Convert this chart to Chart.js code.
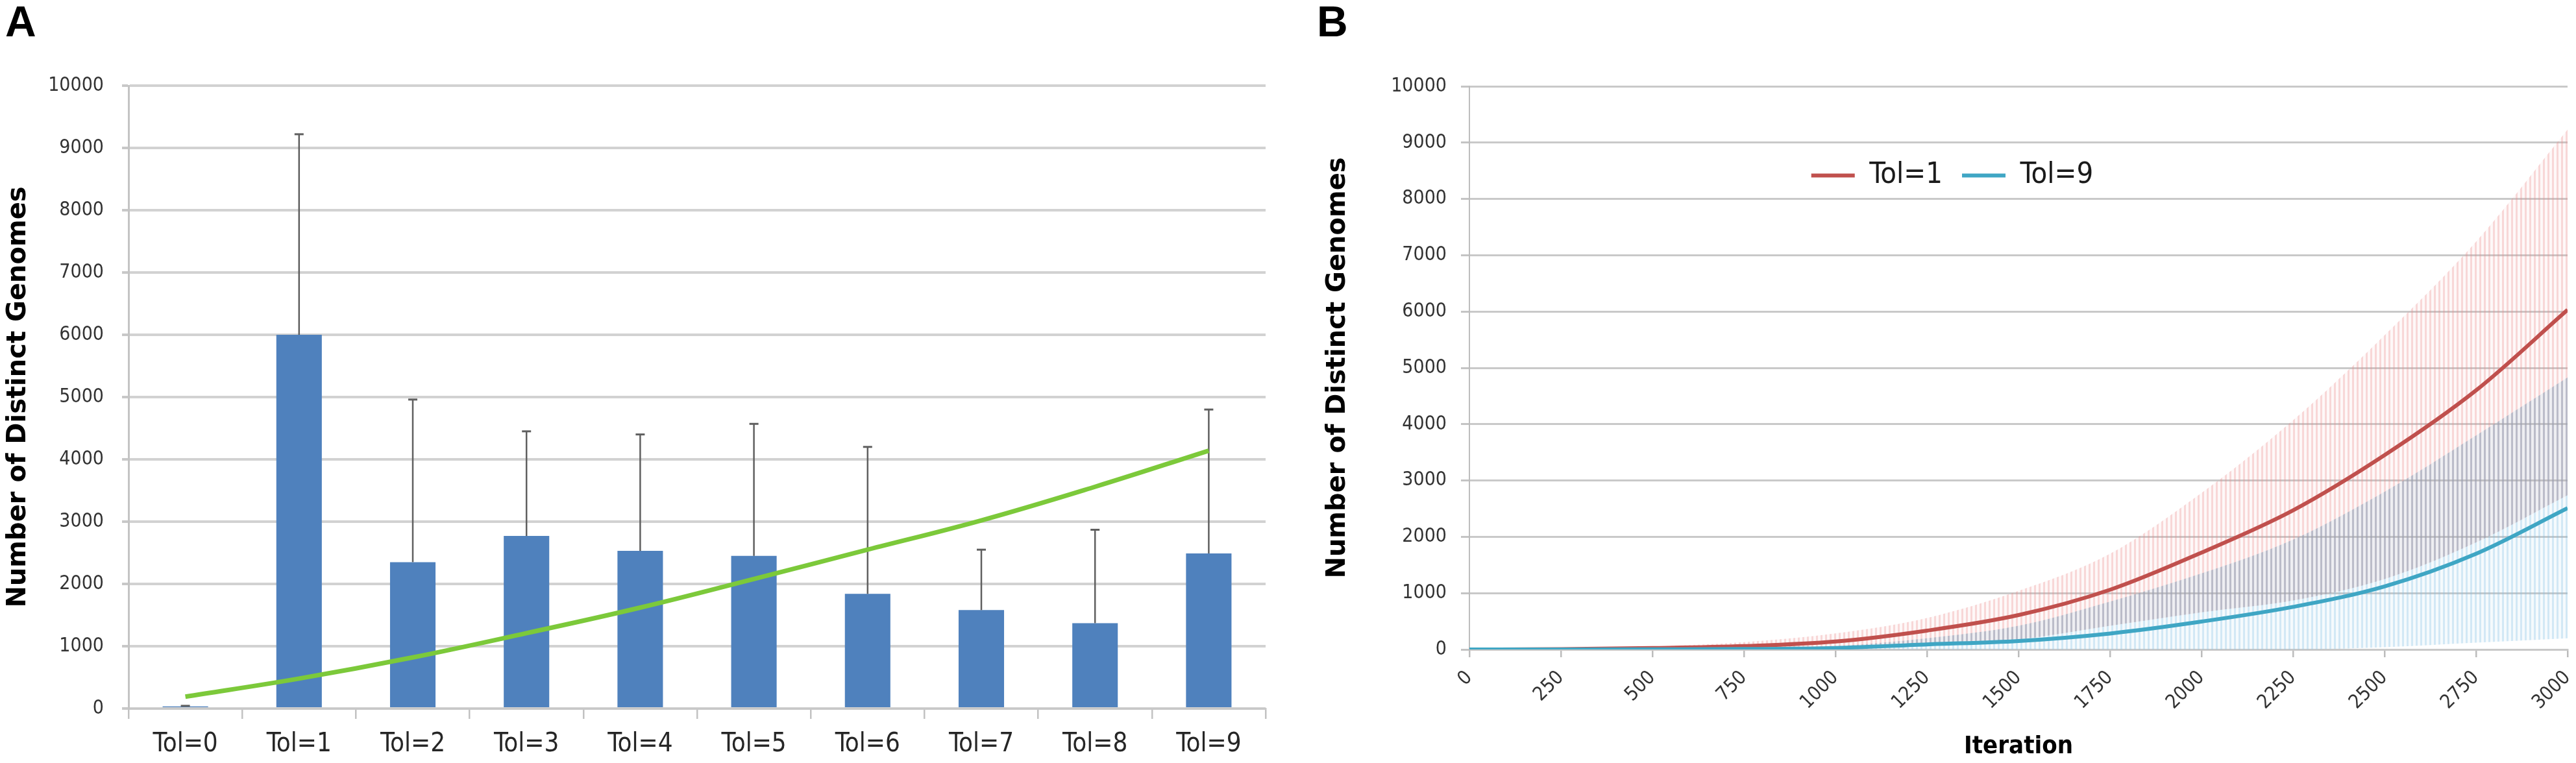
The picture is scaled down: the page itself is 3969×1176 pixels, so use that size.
<!DOCTYPE html>
<html>
<head>
<meta charset="utf-8">
<script src="https://cdn.jsdelivr.net/npm/chart.js@4.4.1/dist/chart.umd.min.js"></script>
<style>
  html, body { margin: 0; padding: 0; background: #ffffff; }
  body { width: 3969px; height: 1176px; position: relative; overflow: hidden; }
  .panel { position: absolute; top: 0; height: 1176px; }
  #pa { left: 0; width: 1990px; }
  #pb { left: 2000px; width: 1969px; }
  .tag { position: absolute; font-family: 'Liberation Sans', Arial, sans-serif; font-weight: bold;
         font-size: 66px; line-height: 66px; color: #000; }
</style>
</head>
<body>
<div class="panel" id="pa"><canvas id="chartA"></canvas></div>
<div class="panel" id="pb"><canvas id="chartB"></canvas></div>
<div class="tag" style="left:8px; top:0px;">A</div>
<div class="tag" style="left:2029px; top:0px;">B</div>
<script>
// ---------------- Panel A data ----------------
const tolCategories = ['Tol=0', 'Tol=1', 'Tol=2', 'Tol=3', 'Tol=4', 'Tol=5', 'Tol=6', 'Tol=7', 'Tol=8', 'Tol=9'];
const meanGenomes  = [35, 6000, 2350, 2770, 2530, 2450, 1840, 1580, 1370, 2490];
const sdGenomes    = [8, 3220, 2610, 1680, 1870, 2120, 2360, 970, 1500, 2310];
const trendGenomes = [190, 480, 820, 1210, 1620, 2080, 2550, 3020, 3560, 4140];

// ---------------- Panel B data ----------------
const iterations = [0, 250, 500, 750, 1000, 1250, 1500, 1750, 2000, 2250, 2500, 2750, 3000];
const tol1Mean   = [0, 5, 25, 60, 140, 335, 610, 1060, 1720, 2470, 3450, 4600, 6030];
const tol1Upper  = [0, 12, 50, 130, 285, 560, 1040, 1700, 2780, 4070, 5580, 7240, 9230];
const tol1Lower  = [0, 0, 5, 10, 20, 110, 180, 420, 660, 870, 1250, 1900, 2740];
const tol9Mean   = [0, 0, 3, 8, 27, 90, 150, 283, 495, 756, 1120, 1700, 2510];
const tol9Upper  = [0, 2, 10, 25, 60, 200, 420, 850, 1350, 1950, 2800, 3800, 4830];
const tol9Lower  = [0, 0, 0, 0, 0, 0, 0, 0, 0, 0, 40, 120, 200];

const COND = "'DejaVu Sans Condensed', 'Liberation Sans Narrow', 'Arial Narrow', sans-serif";
const WIDE = "'DejaVu Sans', Verdana, sans-serif";

Chart.defaults.font.family = COND;

// ---------- helpers ----------
function pts(ys) { return iterations.map((x, i) => ({ x: x, y: ys[i] })); }
function plain(v) { return String(v); }
function stripes(lineCol, gapCol) {
  const c = document.createElement('canvas');
  c.width = 7; c.height = 4;
  const g = c.getContext('2d');
  g.fillStyle = gapCol; g.fillRect(0, 0, 7, 4);
  g.fillStyle = lineCol; g.fillRect(0, 0, 3, 4);
  return g.createPattern(c, 'repeat');
}

// ---------- Panel A ----------
const errorBars = {
  id: 'errorBars',
  afterDatasetDraw(chart, args) {
    if (args.index !== 0) return;
    const ctx = chart.ctx, ys = chart.scales.y;
    ctx.save();
    ctx.strokeStyle = '#5f5f5f';
    args.meta.data.forEach((bar, i) => {
      const top = ys.getPixelForValue(meanGenomes[i] + sdGenomes[i]);
      ctx.lineWidth = 2.5;
      ctx.beginPath();
      ctx.moveTo(bar.x, bar.y);
      ctx.lineTo(bar.x, top);
      ctx.stroke();
      ctx.lineWidth = 3;
      ctx.beginPath();
      ctx.moveTo(bar.x - 7, top);
      ctx.lineTo(bar.x + 7, top);
      ctx.stroke();
    });
    ctx.restore();
  }
};

new Chart(document.getElementById('chartA'), {
  type: 'bar',
  data: {
    labels: tolCategories,
    datasets: [
      {
        type: 'bar',
        label: 'Mean',
        data: meanGenomes,
        backgroundColor: '#4f81bd',
        borderWidth: 0,
        barPercentage: 0.4,
        categoryPercentage: 1.0,
        order: 2
      },
      {
        type: 'line',
        label: 'Trend',
        data: trendGenomes,
        borderColor: '#7cc93a',
        backgroundColor: '#7cc93a',
        borderWidth: 7,
        pointRadius: 0,
        tension: 0.4,
        fill: false,
        order: 1
      }
    ]
  },
  options: {
    responsive: true,
    maintainAspectRatio: false,
    animation: false,
    devicePixelRatio: 1,
    layout: { padding: { top: 132, right: 40, bottom: 0, left: 0 } },
    plugins: { legend: { display: false }, tooltip: { enabled: false } },
    scales: {
      x: {
        type: 'category',
        offset: true,
        grid: { display: true, drawOnChartArea: false, drawTicks: true, tickLength: 16,
                color: '#c2c2c2', lineWidth: 2.5, offset: true },
        border: { display: true, color: '#c8c8c8', width: 3 },
        ticks: { color: '#262626', font: { family: COND, size: 40 }, padding: 16,
                 maxRotation: 0, minRotation: 0, autoSkip: false },
        afterFit(s) { s.height = 84; s.paddingLeft = 0; s.paddingRight = 0; }
      },
      y: {
        min: 0, max: 10000,
        ticks: { stepSize: 1000, color: '#333333', font: { family: COND, size: 30 }, padding: 28,
                 callback: plain },
        grid: { color: '#d2d2d2', lineWidth: 4, tickLength: 10, tickColor: '#c8c8c8' },
        border: { display: true, color: '#c4c4c4', width: 3 },
        title: { display: true, text: 'Number of Distinct Genomes', color: '#000',
                 font: { family: WIDE, size: 40, weight: 'bold', lineHeight: 1.2 },
                 padding: { top: 5, bottom: 0 } },
        afterFit(s) { s.width = 198; }
      }
    }
  },
  plugins: [errorBars]
});

// ---------- Panel B ----------
const overlapHigh = iterations.map((_, i) => Math.min(tol1Upper[i], tol9Upper[i]));
const overlapLow  = iterations.map((_, i) => Math.max(tol1Lower[i], tol9Lower[i]));
const overlapTop  = overlapHigh.map((h, i) => Math.max(h, overlapLow[i]));

const pinkFill = stripes('rgba(236,140,140,0.30)', 'rgba(236,140,140,0.06)');
const blueFill = stripes('rgba(130,190,225,0.30)', 'rgba(130,190,225,0.08)');
const grayFill = stripes('rgba(140,142,150,0.24)', 'rgba(160,162,170,0.07)');

// legend is laid out with a 1px footprint, then moved inside the plot area
const legendShift = {
  id: 'legendShift',
  afterLayout(chart) {
    const lg = chart.legend;
    if (!lg) return;
    const dx = 1008 - (lg.left + lg.right) / 2;
    const dy = 86;
    lg.left += dx; lg.right += dx;
    lg.top += dy;
    lg.height = 130;
    lg.bottom = lg.top + lg.height;
  }
};

const bandBase = {
  borderColor: 'rgba(0,0,0,0)', borderWidth: 1, pointRadius: 0,
  cubicInterpolationMode: 'monotone'
};

new Chart(document.getElementById('chartB'), {
  type: 'line',
  data: {
    datasets: [
      { label: 'Tol=1', data: pts(tol1Mean), borderColor: '#c0504d', backgroundColor: '#c0504d',
        borderWidth: 6, pointRadius: 0, cubicInterpolationMode: 'monotone', fill: false, order: 1 },
      { label: 'Tol=9', data: pts(tol9Mean), borderColor: '#3fa6c4', backgroundColor: '#3fa6c4',
        borderWidth: 6, pointRadius: 0, cubicInterpolationMode: 'monotone', fill: false, order: 0 },
      Object.assign({ label: 'tol1Upper', data: pts(tol1Upper), fill: false, order: 8 }, bandBase),
      Object.assign({ label: 'tol1Lower', data: pts(tol1Lower), fill: 2, backgroundColor: pinkFill, order: 7 }, bandBase),
      Object.assign({ label: 'tol9Upper', data: pts(tol9Upper), fill: false, order: 6 }, bandBase),
      Object.assign({ label: 'tol9Lower', data: pts(tol9Lower), fill: 4, backgroundColor: blueFill, order: 5 }, bandBase),
      Object.assign({ label: 'overlapHigh', data: pts(overlapTop), fill: false, order: 4 }, bandBase),
      Object.assign({ label: 'overlapLow', data: pts(overlapLow), fill: 6, backgroundColor: grayFill, order: 3 }, bandBase)
    ]
  },
  options: {
    responsive: true,
    maintainAspectRatio: false,
    animation: false,
    devicePixelRatio: 1,
    layout: { padding: { top: 132, right: 13, bottom: 0, left: 0 } },
    plugins: {
      tooltip: { enabled: false },
      filler: { propagate: false },
      legend: {
        display: true,
        position: 'top',
        align: 'center',
        maxHeight: 1,
        labels: {
          font: { family: COND, size: 45 },
          color: '#1a1a1a',
          boxWidth: 67,
          boxHeight: 6,
          padding: 30,
          generateLabels(chart) {
            return chart.data.datasets.slice(0, 2).map((ds, i) => ({
              text: ds.label, fillStyle: ds.borderColor, strokeStyle: ds.borderColor,
              lineWidth: 0, hidden: false, datasetIndex: i, fontColor: '#1a1a1a'
            }));
          }
        }
      }
    },
    scales: {
      x: {
        type: 'linear',
        min: 0, max: 3000,
        ticks: { stepSize: 250, minRotation: 45, maxRotation: 45, color: '#333333',
                 font: { family: COND, size: 30 }, padding: 14, autoSkip: false, callback: plain },
        grid: { display: true, drawOnChartArea: false, drawTicks: true, tickLength: 12,
                color: '#bcbcbc', lineWidth: 2.5 },
        border: { display: true, color: '#c8c8c8', width: 3 },
        title: { display: true, text: 'Iteration', color: '#000',
                 font: { family: COND, size: 38, weight: 'bold', lineHeight: 1.2 },
                 padding: { top: 0, bottom: 2 } },
        afterFit(s) { s.height = 175; s.paddingLeft = 0; s.paddingRight = 0; }
      },
      y: {
        min: 0, max: 10000,
        ticks: { stepSize: 1000, color: '#333333', font: { family: COND, size: 30 }, padding: 22,
                 callback: plain },
        grid: { color: '#c9c9c9', lineWidth: 3, tickLength: 13, tickColor: '#c4c4c4' },
        border: { display: true, color: '#bdbdbd', width: 2 },
        title: { display: true, text: 'Number of Distinct Genomes', color: '#000',
                 font: { family: WIDE, size: 40, weight: 'bold', lineHeight: 1.2 },
                 padding: { top: 38, bottom: 0 } },
        afterFit(s) { s.width = 264; }
      }
    }
  },
  plugins: [legendShift]
});
</script>
</body>
</html>
